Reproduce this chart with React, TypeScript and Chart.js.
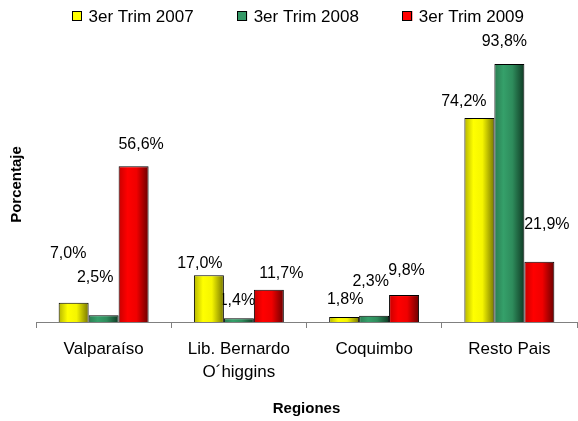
import React, { useEffect, useRef } from "react";
import { Chart, registerables } from "chart.js";

Chart.register(...registerables);

const categories: (string | string[])[] = [
  "Valparaíso",
  ["Lib. Bernardo", "O´higgins"],
  "Coquimbo",
  "Resto Pais",
];
const seriesNames = ["3er Trim 2007", "3er Trim 2008", "3er Trim 2009"];
const trim2007 = [7.0, 17.0, 1.8, 74.2];
const trim2008 = [2.5, 1.4, 2.3, 93.8];
const trim2009 = [56.6, 11.7, 9.8, 21.9];
const yMax = 100;

// label nudges (dx, dy) relative to bar top, mimicking the hand-placed labels
const labelNudge2007 = [[-5.5, -49], [-9, -12], [1, -17], [-15.5, -16]];
const labelNudge2008 = [[-8.5, -38], [-2, -18], [-3.5, -34.5], [-5, -22]];
const labelNudge2009 = [[7.5, -21.5], [12.5, -16], [2.5, -24], [7.5, -37.5]];

const FONT = "'Liberation Sans', Arial, Helvetica, sans-serif";
const CAT_PCT = 0.665;

const gradientStops: [number, string][][] = [
  [[0, "#b5b500"], [0.3, "#ffff00"], [0.6, "#f5f500"], [1, "#777700"]],
  [[0, "#2b7d52"], [0.3, "#35a06a"], [0.6, "#2e8c5c"], [1, "#0f3a24"]],
  [[0, "#c80000"], [0.3, "#ff0000"], [0.6, "#f00000"], [1, "#6a0000"]],
];
const solidColors = ["#ffff00", "#339966", "#ff0000"];

function fmt(v: number) {
  return v.toFixed(1).replace(".", ",") + "%";
}

export default function App() {
  const ref = useRef<HTMLCanvasElement | null>(null);

  useEffect(() => {
    document.body.style.margin = "0";
    const canvas = ref.current;
    if (!canvas) return;

    const nudges = [labelNudge2007, labelNudge2008, labelNudge2009];

    const barGradient = (dsIndex: number) => (ctx: any) => {
      const chart = ctx.chart;
      const xs = chart.scales?.x;
      if (!xs || ctx.type !== "data" || !chart.chartArea) return solidColors[dsIndex];
      const n = categories.length;
      const catW = (xs.right - xs.left) / n;
      const groupW = catW * CAT_PCT;
      const barW = groupW / 3;
      const center = xs.getPixelForValue(ctx.dataIndex);
      const left = center - groupW / 2 + dsIndex * barW;
      const g = chart.ctx.createLinearGradient(left, 0, left + barW, 0);
      gradientStops[dsIndex].forEach(([o, c]) => g.addColorStop(o, c));
      return g;
    };

    const labelPlugin = {
      id: "valueLabels",
      beforeDatasetsDraw(chart: any) {
        const c = chart.ctx;
        c.save();
        c.font = `16px ${FONT}`;
        c.fillStyle = "#000";
        c.textAlign = "center";
        c.textBaseline = "middle";
        chart.data.datasets.forEach((ds: any, i: number) => {
          const meta = chart.getDatasetMeta(i);
          meta.data.forEach((el: any, j: number) => {
            const [dx, dy] = nudges[i][j];
            c.fillText(fmt(ds.data[j]), el.x + dx, el.y + dy);
          });
        });
        c.restore();
      },
    };

    const legendPlugin = {
      id: "customLegend",
      afterDraw(chart: any) {
        const c = chart.ctx;
        c.save();
        c.font = `17px ${FONT}`;
        c.textBaseline = "middle";
        c.textAlign = "left";
        const box = 10;
        const gapText = 6.5;
        const gapItem = 43.5;
        const widths = seriesNames.map((s) => box + gapText + c.measureText(s).width);
        const total = widths.reduce((a, b) => a + b, 0) + gapItem * (widths.length - 1);
        const centerX = 298;
        const cy = 16;
        let x = centerX - total / 2;
        seriesNames.forEach((s, i) => {
          c.fillStyle = solidColors[i];
          c.fillRect(x, cy - box / 2, box, box);
          c.strokeStyle = "#000";
          c.lineWidth = 1;
          c.strokeRect(Math.round(x) + 0.5, Math.round(cy - box / 2) + 0.5, box - 1, box - 1);
          c.fillStyle = "#000";
          c.fillText(s, x + box + gapText, cy + 1);
          x += widths[i] + gapItem;
        });
        c.restore();
      },
    };

    const chart = new Chart(canvas, {
      type: "bar",
      data: {
        labels: categories,
        datasets: [trim2007, trim2008, trim2009].map((d, i) => ({
          label: seriesNames[i],
          data: d,
          backgroundColor: barGradient(i),
          borderColor: "#000",
          borderWidth: 1,
          categoryPercentage: CAT_PCT,
          barPercentage: 1,
        })),
      },
      options: {
        responsive: false,
        animation: false,
        devicePixelRatio: 1,
        layout: { padding: { top: 47, right: 1, left: 0, bottom: 0 } },
        plugins: {
          legend: { display: false },
          tooltip: { enabled: false },
        },
        scales: {
          x: {
            grid: {
              display: true,
              drawOnChartArea: false,
              drawTicks: true,
              tickLength: 6,
              tickColor: "#808080",
              offset: true,
            },
            border: { display: true, color: "#808080", width: 1 },
            ticks: {
              color: "#000",
              font: { family: FONT, size: 17, lineHeight: 1.4 },
              padding: 9,
              maxRotation: 0,
              autoSkip: false,
            },
            title: {
              display: true,
              text: "Regiones",
              color: "#000",
              font: { family: FONT, size: 15, weight: "bold", lineHeight: 1.2 },
              padding: { top: 0, bottom: 3 },
            },
            afterFit(scale: any) {
              scale.height = 99;
            },
          },
          y: {
            min: 0,
            max: yMax,
            grid: { display: false },
            border: { display: false },
            ticks: { display: false },
            title: {
              display: true,
              text: "Porcentaje",
              color: "#000",
              font: { family: FONT, size: 15, weight: "bold", lineHeight: 1.2 },
              padding: { top: 8, bottom: 0 },
            },
            afterFit(scale: any) {
              scale.width = 36;
            },
          },
        },
      },
      plugins: [labelPlugin, legendPlugin],
    });

    return () => chart.destroy();
  }, []);

  return (
    <div style={{ width: 578, height: 421, background: "#fff" }}>
      <canvas ref={ref} width={578} height={421} />
    </div>
  );
}
